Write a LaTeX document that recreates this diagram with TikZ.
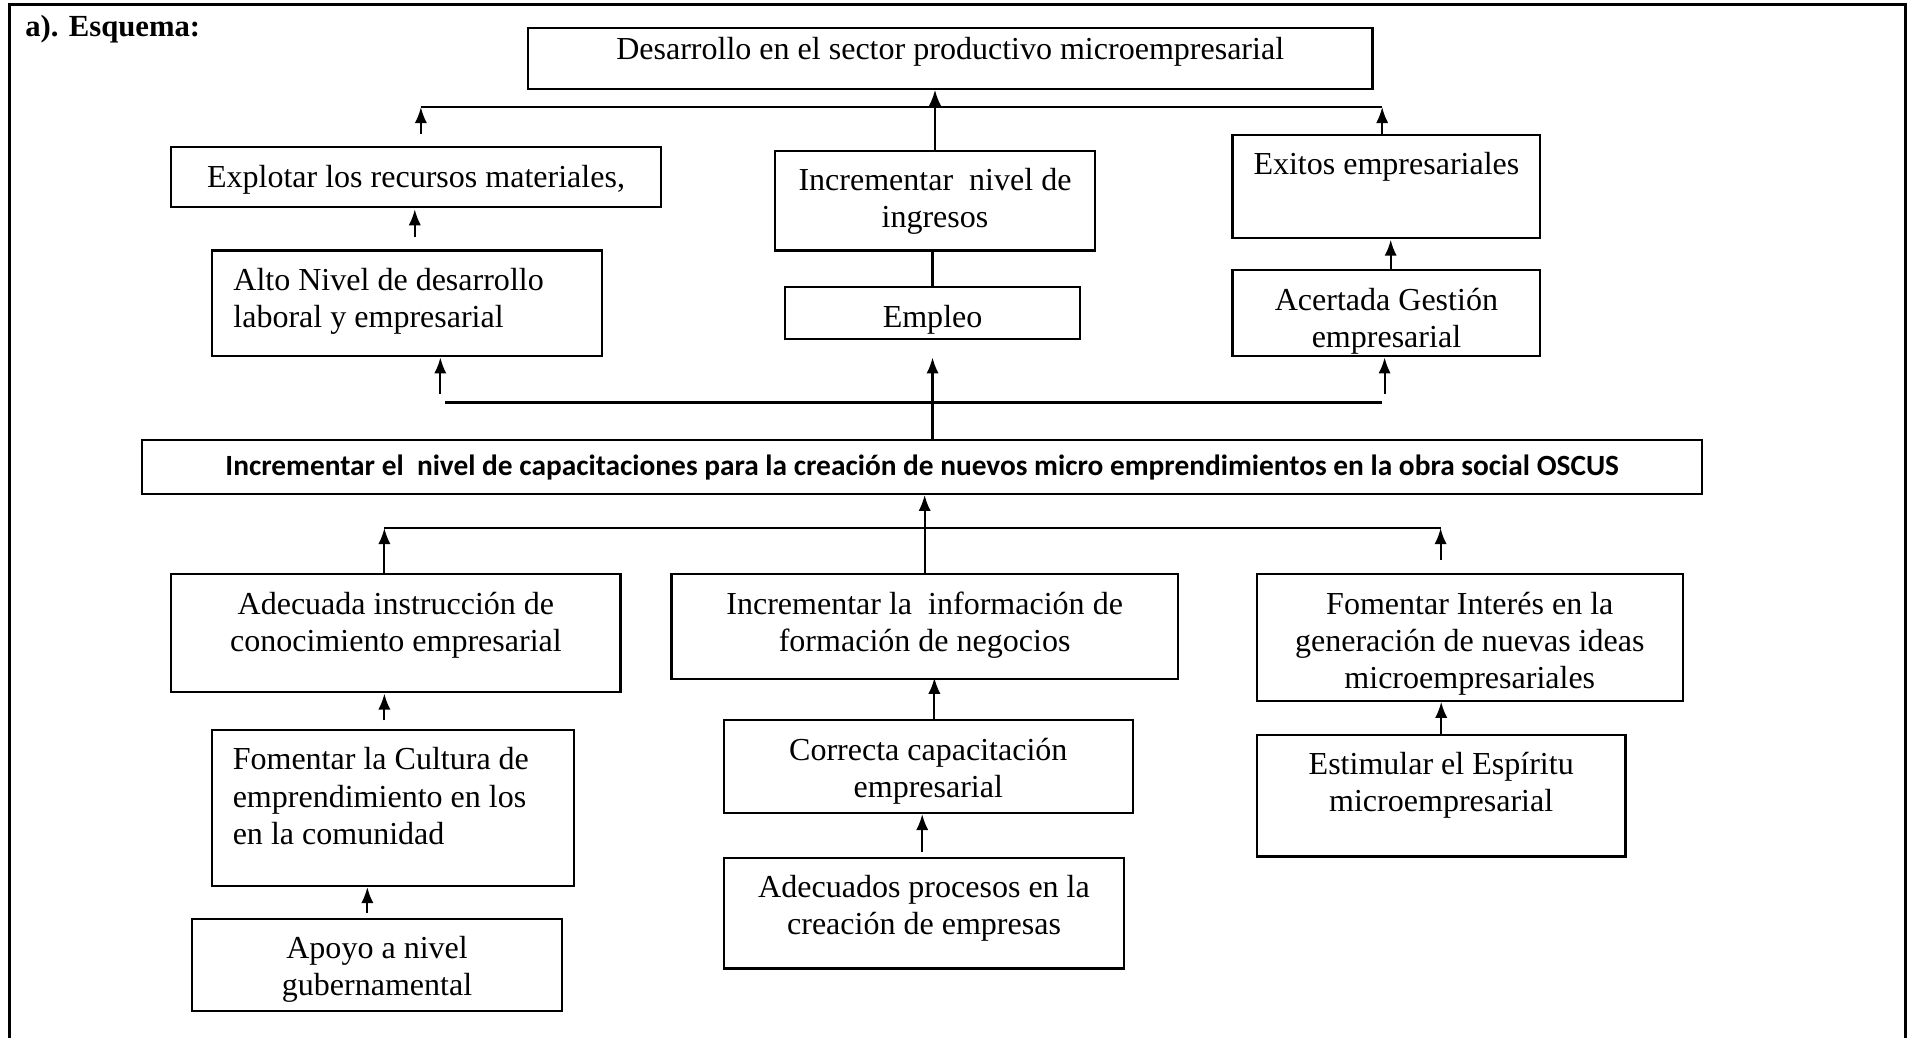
\documentclass[tikz,border=0pt]{standalone}
\usepackage{fontspec}
\setmainfont{Liberation Serif}
\newfontfamily\calibri{Carlito}
\usetikzlibrary{arrows.meta,calc}

\tikzset{
  caja/.style={draw, rectangle, inner ysep=0pt, inner xsep=3pt, align=flush center,
    font=\fontsize{12}{13.9}\selectfont},
}

% [opciones]{nombre}{x1}{y1}{x2}{y2}{alto de la primera linea}{texto}
\newcommand{\caja}[8][]{%
  \pgfmathsetlengthmacro{\cajaw}{(#5-#3)*0.456pt}%
  \pgfmathsetlengthmacro{\cajat}{(#5-#3)*0.456pt-6pt}%
  \pgfmathsetlengthmacro{\cajad}{(#6-#4)*0.456pt-#7}%
  \node[caja, anchor=north west, minimum width=\cajaw, text width=\cajat,
    text height=#7, text depth=\cajad, #1] (#2) at (#3,#4) {#8};}

\begin{document}
\begin{tikzpicture}[x=0.456pt, y=-0.456pt, line width=0.8pt,
    >={Latex[length=6pt,width=4.6pt]}]
  \useasboundingbox (0,0) rectangle (1568,853);
  \draw[line width=1.2pt] (7.5,853) -- (7.5,4) -- (1566,4) -- (1566,853);
  \node[font=\fontsize{11.5}{14}\selectfont\bfseries, anchor=base west,
    inner sep=0pt] (titulo) at (20,30) {a). Esquema:};

  % efectos
  \caja{desarrollo}{433}{22}{1127}{72}{12pt}{Desarrollo en el sector productivo microempresarial}
  \caja{explotar}{140}{120}{542}{169}{15pt}{Explotar los recursos materiales,}
  \caja{ingresos}{636}{123}{899}{205}{15pt}{Incrementar\ \ nivel de\\ingresos}
  \caja{exitos}{1012}{110}{1265}{195}{15pt}{Exitos empresariales}
  \caja[align=flush left, text width=130pt, inner xsep=7.75pt]{alto}{173}{205}{494}{292}{15pt}{Alto Nivel de desarrollo\\laboral y empresarial}
  \caja{empleo}{644}{235}{887}{278}{15pt}{Empleo}
  \caja{gestion}{1012}{221}{1265}{292}{15pt}{Acertada Gestión\\empresarial}

  % problema central
  \caja[font=\calibri\bfseries\fontsize{11}{13}\selectfont]{capacit}{116}{361}{1398}{405}{13pt}{Incrementar el\ \ nivel de capacitaciones para la creación de nuevos micro emprendimientos en la obra social OSCUS}

  % causas
  \caja{instruccion}{140}{471}{509}{568}{15pt}{Adecuada instrucción de\\conocimiento empresarial}
  \caja{informacion}{551}{471}{967}{557}{15pt}{Incrementar la\ \ información de\\formación de negocios}
  \caja{interes}{1032}{471}{1382}{575}{15pt}{Fomentar Interés en la\\generación de nuevas ideas\\microempresariales}
  \caja[align=flush left, text width=120pt, inner xsep=7.75pt]{cultura}{173}{599}{471}{727}{15pt}{Fomentar la Cultura de\\emprendimiento en los\\en la comunidad}
  \caja{correcta}{594}{591}{930}{667}{15pt}{Correcta capacitación\\empresarial}
  \caja{espiritu}{1032}{603}{1335}{703}{15pt}{Estimular el Espíritu\\microempresarial}
  \caja{apoyo}{157}{754}{461}{830}{15pt}{Apoyo a nivel\\gubernamental}
  \caja{procesos}{594}{704}{923}{795}{15pt}{Adecuados procesos en la\\creación de empresas}

  % flechas superiores
  \draw[->] ($(explotar.north)+(4,-10)$) -- ($(explotar.north)+(4,-32)$);
  \draw[->] ($(exitos.north)+(-3.5,0)$) -- ($(exitos.north)+(-3.5,-22)$);
  \draw ($(explotar.north)+(4,-32)$) -- ($(exitos.north)+(-3.5,-22)$);
  \draw[->] (ingresos.north) -- (ingresos.north |- desarrollo.south);
  \draw[->] ($(alto.north)+(6.5,-10)$) -- ($(alto.north)+(6.5,-33)$);
  \draw (empleo.north) -- (empleo.north |- ingresos.south);
  \draw[->] ($(gestion.north)+(3.5,0)$) -- ($(gestion.north)+(3.5,-24)$);

  % flechas centrales
  \draw[->] ($(alto.south)+(27.5,30)$) -- ($(alto.south)+(27.5,0)$);
  \draw[->] ($(gestion.south)+(-1.5,30)$) -- ($(gestion.south)+(-1.5,0)$);
  \draw ($(alto.south)+(31.5,37)$) -- ($(gestion.south)+(-3.5,37)$);
  \draw[->] (capacit.north -| empleo.south) -- ($(empleo.south)+(0,14)$);

  % flechas inferiores
  \draw[->] ($(instruccion.north)+(-9.5,0)$) -- ($(instruccion.north)+(-9.5,-37)$);
  \draw[->] ($(interes.north)+(-24,-11)$) -- ($(interes.north)+(-24,-37)$);
  \draw ($(instruccion.north)+(-9.5,-37)$) -- ($(interes.north)+(-24,-37)$);
  \draw[->] (informacion.north) -- (informacion.north |- capacit.south);
  \draw[->] ($(cultura.north)+(-7,-7)$) -- ($(cultura.north)+(-7,-29)$);
  \draw[->] ($(correcta.north)+(5,0)$) -- ($(correcta.north)+(5,-34)$);
  \draw[->] ($(procesos.north)+(-1.5,-4)$) -- ($(procesos.north)+(-1.5,-35)$);
  \draw[->] (espiritu.north) -- (espiritu.north |- interes.south);
  \draw[->] ($(apoyo.north)+(-8,-4)$) -- ($(apoyo.north)+(-8,-25)$);
\end{tikzpicture}
\end{document}
